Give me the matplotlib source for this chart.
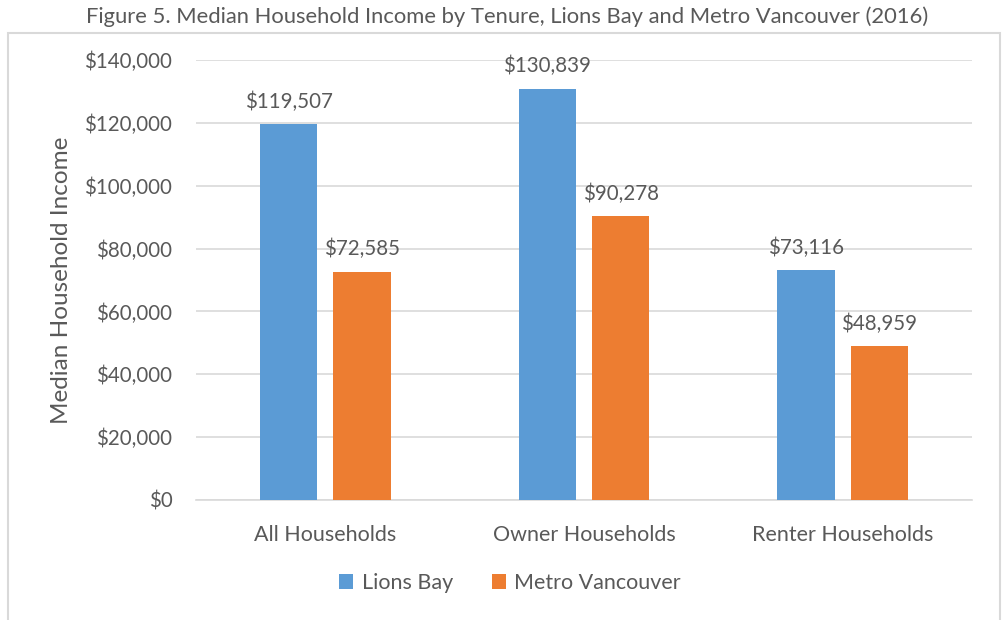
import matplotlib
matplotlib.use("Agg")
import matplotlib.pyplot as plt
import numpy as np
from matplotlib.patches import Rectangle

# Data
categories = ["All Households", "Owner Households", "Renter Households"]
lions_bay = [119507, 130839, 73116]
metro_van = [72585, 90278, 48959]
series_names = ["Lions Bay", "Metro Vancouver"]
yticks = [0, 20000, 40000, 60000, 80000, 100000, 120000, 140000]

BLUE = "#5B9BD5"
ORANGE = "#ED7D31"
TXT = "#595959"
GRID = "#D9D9D9"

plt.rcParams["font.family"] = ["Lato", "DejaVu Sans"]

W, H = 1002, 620
fig = plt.figure(figsize=(W / 100, H / 100), dpi=100)

# chart border
fig.patches.append(Rectangle((8 / W, -0.05), (1000 - 8) / W, 1 - 33 / H + 0.05,
                             transform=fig.transFigure, fill=False,
                             edgecolor=GRID, linewidth=1.5))
fig.text(0.506, 1 - 17 / H, "Figure 5. Median Household Income by Tenure, Lions Bay and Metro Vancouver (2016)",
         ha="center", va="center", fontsize=15.8, color=TXT)

ax = fig.add_axes([196 / W, 1 - 500 / H, 776 / W, 440 / H])
x = np.arange(len(categories))
bw = 0.222
off = 0.142
b1 = ax.bar(x - off, lions_bay, bw, color=BLUE, label=series_names[0], zorder=3)
b2 = ax.bar(x + off, metro_van, bw, color=ORANGE, label=series_names[1], zorder=3)

for bars in (b1, b2):
    for r in bars:
        v = r.get_height()
        ax.annotate(f"${v:,.0f}", (r.get_x() + r.get_width() / 2, v),
                    xytext=(0, 9), textcoords="offset points",
                    ha="center", va="bottom", fontsize=14.8, color=TXT)

ax.set_xlim(-0.5, 2.5)
ax.set_ylim(0, 140000)
ax.set_yticks(yticks)
ax.set_yticklabels([f"${v:,.0f}" for v in yticks])
ax.set_xticks(x)
ax.set_xticklabels(categories)
ax.tick_params(axis="y", length=0, labelsize=14.8, labelcolor=TXT, pad=17)
ax.tick_params(axis="x", length=0, labelsize=15.5, labelcolor=TXT, pad=18)
ax.grid(axis="y", color=GRID, linewidth=1.2, zorder=0)
for s in ["top", "right", "left"]:
    ax.spines[s].set_visible(False)
ax.spines["bottom"].set_color(GRID)
ax.spines["bottom"].set_linewidth(1.2)

ax.set_ylabel("Median Household Income", fontsize=17.5, color=TXT, labelpad=9)

fig.legend(*ax.get_legend_handles_labels(), loc="center",
           bbox_to_anchor=(510 / W, 1 - 583 / H), ncol=2, frameon=False,
           fontsize=15.5, labelcolor=TXT, handlelength=0.65, handleheight=0.65,
           handletextpad=0.4, columnspacing=1.8)

fig.savefig("out.png", dpi=100)
